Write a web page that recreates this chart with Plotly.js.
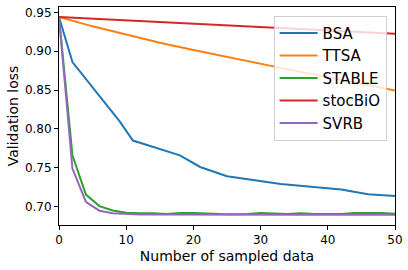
<!DOCTYPE html>
<html><head><meta charset="utf-8">
<script src="https://cdn.plot.ly/plotly-3.0.1.min.js"></script>
<style>html,body{margin:0;padding:0;background:#fff}#c{width:408px;height:270px}</style>
</head><body><div id="c"></div>
<script>
var bsaX = [0, 2, 9, 11, 18, 21, 25, 30, 33, 42, 46, 50];
var bsaY = [0.944, 0.886, 0.810, 0.785, 0.766, 0.751, 0.739, 0.733, 0.729, 0.722, 0.716, 0.7135];
var ttsaX = [0, 5, 10, 15, 20, 25, 30, 35, 40, 45, 50];
var ttsaY = [0.944, 0.932, 0.9215, 0.911, 0.9015, 0.8925, 0.8835, 0.875, 0.8665, 0.858, 0.8495];
var stocX = [0, 50];
var stocY = [0.944, 0.9225];
var fineX = [0, 2, 4, 6, 8, 10, 12, 14, 16, 18, 20, 22, 24, 26, 28, 30, 32, 34, 36, 38, 40, 42, 44, 46, 48, 50];
var stableY = [0.944, 0.766, 0.7155, 0.7006, 0.695, 0.6922, 0.6915, 0.6915, 0.6905, 0.6918, 0.6916, 0.6905, 0.6903, 0.6902, 0.6905, 0.6918, 0.6908, 0.6905, 0.6915, 0.6905, 0.6905, 0.6905, 0.6918, 0.6918, 0.6918, 0.6908];
var svrbY = [0.944, 0.749, 0.706, 0.6947, 0.6915, 0.6902, 0.6898, 0.6898, 0.6897, 0.6896, 0.6896, 0.6896, 0.6894, 0.6892, 0.6895, 0.6896, 0.6896, 0.6896, 0.6896, 0.6896, 0.6896, 0.6896, 0.6896, 0.6896, 0.6896, 0.6896];

var names = ['BSA', 'TTSA', 'STABLE', 'stocBiO', 'SVRB'];
var colors = ['#1f77b4', '#ff7f0e', '#2ca02c', '#d62728', '#9467bd'];
var xs = [bsaX, ttsaX, fineX, stocX, fineX];
var ys = [bsaY, ttsaY, stableY, stocY, svrbY];

var traces = names.map(function(n, i){
  return {x: xs[i], y: ys[i], name: n, type: 'scatter', mode: 'lines',
          line: {color: colors[i], width: 2}};
});

var font = 'DejaVu Sans, sans-serif';
var layout = {
  width: 408, height: 270,
  margin: {l: 59, r: 13, t: 7, b: 45},
  paper_bgcolor: '#fff', plot_bgcolor: '#fff',
  font: {family: font, size: 12, color: '#000'},
  showlegend: true,
  legend: {x: 0.975, y: 0.96, xanchor: 'right', yanchor: 'top', itemwidth: 38,
           bgcolor: 'rgba(255,255,255,0.8)', bordercolor: '#d0d0d0', borderwidth: 1,
           font: {family: font, size: 15, color: '#000'}},
  xaxis: {range: [0, 50], tickvals: [0, 10, 20, 30, 40, 50], ticktext: ['0','10','20','30','40','50'],
          showgrid: false, zeroline: false, showline: true, mirror: true, linecolor: '#000', linewidth: 1,
          ticks: 'outside', ticklen: 4, tickcolor: '#000',
          tickfont: {family: font, size: 12},
          title: {text: 'Number of sampled data', font: {family: font, size: 14}, standoff: 4}},
  yaxis: {range: [0.6763, 0.9569], tickvals: [0.70, 0.75, 0.80, 0.85, 0.90, 0.95],
          ticktext: ['0.70','0.75','0.80','0.85','0.90','0.95'],
          showgrid: false, zeroline: false, showline: true, mirror: true, linecolor: '#000', linewidth: 1,
          ticks: 'outside', ticklen: 4, tickcolor: '#000',
          tickfont: {family: font, size: 12},
          title: {text: 'Validation loss', font: {family: font, size: 14}, standoff: 2}}
};
Plotly.newPlot('c', traces, layout, {displayModeBar: false, staticPlot: true});
</script></body></html>
